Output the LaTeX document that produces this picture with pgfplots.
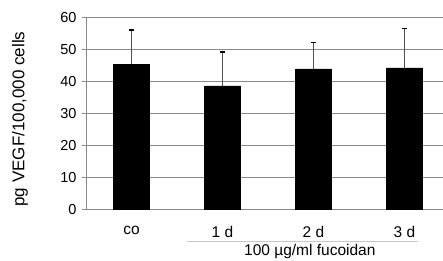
\documentclass[border=0pt]{standalone}
\usepackage{pgfplots}
\pgfplotsset{compat=1.18}
\usepackage{fontspec}
\setmainfont{Liberation Sans}
\definecolor{gridc}{HTML}{8A8A8A}
\definecolor{errc}{HTML}{505050}
\definecolor{brk}{HTML}{C8C8C8}
\begin{document}
\begin{tikzpicture}
\useasboundingbox (0,0) rectangle (443bp,261bp);
\begin{axis}[
  at={(86bp,51.7bp)}, anchor=south west,
  scale only axis, width=357bp, height=192bp,
  xmin=-0.5, xmax=3.423, ymin=0, ymax=60,
  axis line style={gridc, line width=0.8pt},
  axis x line*=bottom, axis y line*=left,
  xtick={0,1,2,3}, xticklabels={co,1 d,2 d,3 d},
  x tick style={draw=none},
  extra x ticks={0.5,1.5,2.5}, extra x tick labels={},
  extra x tick style={tick style={draw=gridc, line width=0.8pt}, grid=none, major tick length=4bp, tick align=outside},
  ytick={0,10,...,60},
  y tick style={draw=gridc, line width=0.8pt},
  major tick length=4bp, tick align=outside,
  ymajorgrids, grid style={gridc, line width=0.8pt},
  yticklabel style={font=\fontsize{14.5bp}{16bp}\selectfont, xshift=-2bp},
  xticklabel style={font=\fontsize{15.5bp}{17bp}\selectfont, yshift=-9bp},
  /pgf/number format/assume math mode=true,
  ylabel={pg VEGF/100,000 cells},
  ylabel style={at={(axis description cs:-0.185,0.47)}, anchor=center, font=\fontsize{17bp}{19bp}\selectfont},
  clip=false,
]
\addplot[ybar, bar width=36bp, fill=black, draw=black,
  error bars/.cd, y dir=plus, y explicit,
  error bar style={errc, line width=1pt},
  error mark options={black, rotate=90, mark size=2.6bp, line width=1.3pt}]
  coordinates {(0,45.3) +- (0,10.7) (1,38.6) +- (0,10.6) (2,43.9) +- (0,8.3) (3,44.2) +- (0,12.4)};
\draw[brk, line width=0.8pt] (axis cs:0.61,-9.9) -- (axis cs:3.15,-9.9);
\node[font=\fontsize{15.5bp}{17bp}\selectfont, anchor=center] at (axis cs:1.96,-13.3) {100 µg/ml fucoidan};
\end{axis}
\end{tikzpicture}
\end{document}
